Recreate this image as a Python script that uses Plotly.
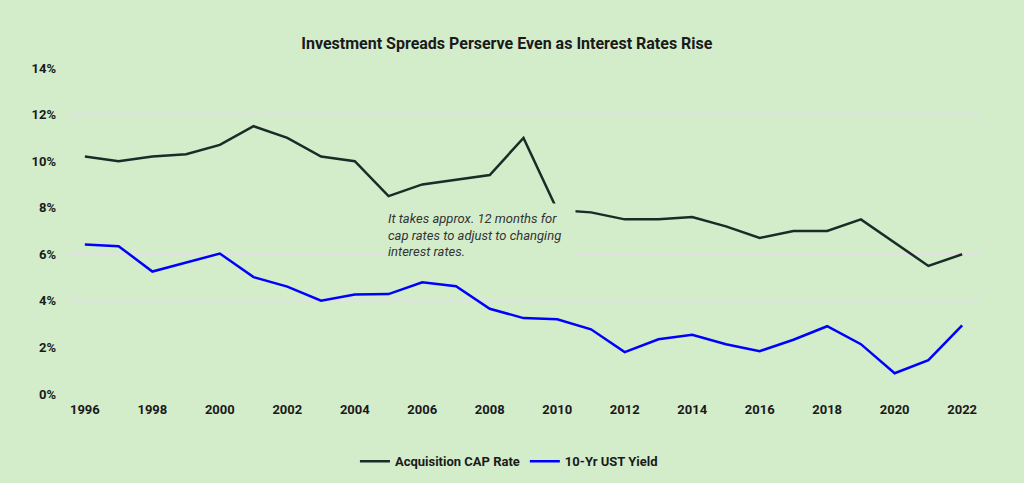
import plotly.graph_objects as go

years = list(range(1996, 2023))
cap_rate = [10.2, 10.0, 10.2, 10.3, 10.7, 11.5, 11.0, 10.2, 10.0, 8.5, 9.0, 9.2, 9.4, 11.0,
            7.9, 7.8, 7.5, 7.5, 7.6, 7.2, 6.7, 7.0, 7.0, 7.5, 6.5, 5.5, 6.0]
ust_yield = [6.42, 6.35, 5.26, 5.65, 6.03, 5.02, 4.61, 4.01, 4.27, 4.29, 4.80, 4.63, 3.66, 3.26,
             3.21, 2.78, 1.80, 2.35, 2.54, 2.14, 1.84, 2.33, 2.91, 2.14, 0.89, 1.45, 2.95]
series_names = ["Acquisition CAP Rate", "10-Yr UST Yield"]
y_ticks = [0, 2, 4, 6, 8, 10, 12, 14]
y_tick_labels = [f"{v}%" for v in y_ticks]
x_ticks = list(range(1996, 2023, 2))

BG = "#D3EDCB"
FONT = "Roboto"

fig = go.Figure()
fig.add_trace(go.Scatter(x=years, y=cap_rate, mode="lines", name=series_names[0],
                         line=dict(color="#1B2B27", width=2.5)))
fig.add_trace(go.Scatter(x=years, y=ust_yield, mode="lines", name=series_names[1],
                         line=dict(color="#0000FF", width=2.5)))

fig.add_annotation(x=2007.73, y=6.81, xref="x", yref="y", showarrow=False,
                   text="It takes approx. 12 months for<br>cap rates to adjust to changing<br>interest rates.",
                   align="left", width=186, height=60, bgcolor=BG,
                   font=dict(family=FONT, size=13, color="#333333", style="italic"))

fig.update_layout(
    width=1024, height=483,
    paper_bgcolor=BG, plot_bgcolor=BG,
    margin=dict(l=68, r=45, t=68, b=89),
    title=dict(text="<b>Investment Spreads Perserve Even as Interest Rates Rise</b>",
               x=0.495, xanchor="center", y=0.91, yanchor="middle",
               font=dict(family=FONT, size=16, color="#1A1A1A")),
    font=dict(family=FONT, size=13, color="#1A1A1A"),
    xaxis=dict(range=[1995.5, 2022.5], tickvals=x_ticks, showgrid=False, zeroline=False,
               showline=False, tickfont=dict(family=FONT, size=13, color="#1A1A1A", weight="bold"),
               ticks="", ticklabelstandoff=6),
    yaxis=dict(range=[0, 14], tickvals=y_ticks, ticktext=y_tick_labels, showgrid=True,
               gridcolor="#E2E2E2", gridwidth=1, zeroline=False, showline=False,
               tickfont=dict(family=FONT, size=13, color="#1A1A1A", weight="bold"),
               ticklabelstandoff=11),
    legend=dict(orientation="h", x=0.497, xanchor="center", xref="container",
                y=0.045, yanchor="middle", yref="container",
                font=dict(family=FONT, size=13, color="#1A1A1A", weight="bold"),
                bgcolor="rgba(0,0,0,0)", itemwidth=30),
    showlegend=True,
)

fig.write_html("out.html", config={"displayModeBar": False},
               post_script="document.body.style.margin='0';document.body.style.overflow='hidden';")
